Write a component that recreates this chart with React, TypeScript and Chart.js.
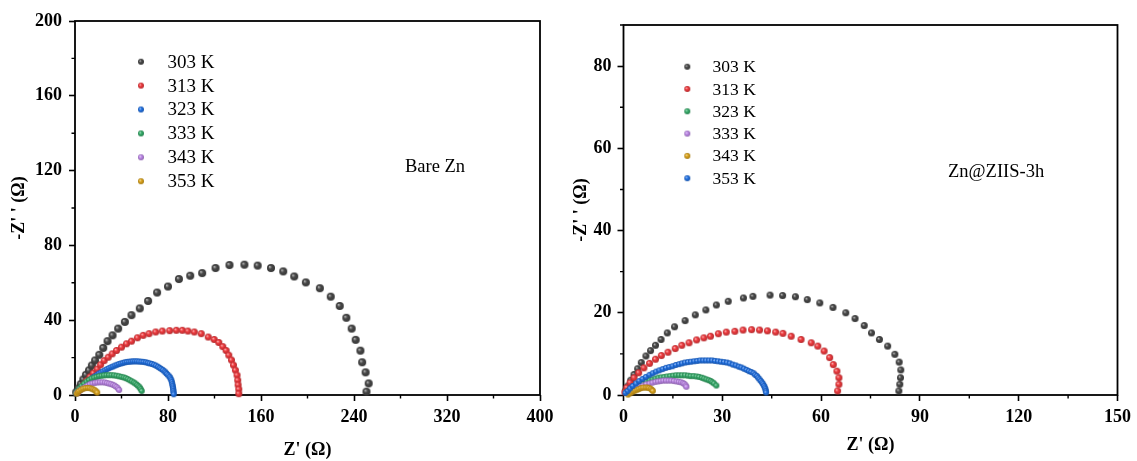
import React, { useEffect, useRef } from 'react';
import { Chart, registerables } from 'chart.js';

Chart.register(...registerables);

// ---------- DATA ----------
const seriesLabels = ['303 K', '313 K', '323 K', '333 K', '343 K', '353 K'];

// Bare Zn  (Z', -Z'')
const bare303 = [[1.0,1.5],[2.9,3.5],[4.9,5.8],[7.1,8.3],[9.4,10.8],[12,13.2],[14.5,15.8],[17.3,18.5],[20.9,21.5],[24.3,25.2],[28,28.8],[32.3,31.9],[37.1,35.5],[42.9,39.1],[48.6,42.7],[55.7,46.3],[62.9,50.3],[70.6,54.8],[80,58],[89.4,62],[99.1,63.8],[109.4,65.2],[120.9,67.9],[132.9,69.5],[145.7,69.7],[157.1,69.2],[168.6,67.9],[179.1,66.1],[188.6,63.4],[198.6,60.2],[210.6,57.1],[220,52.6],[227.7,47.6],[233.4,41.3],[238,35.5],[241.4,29.5],[245.5,23.7],[247,17.5],[250,12.1],[252.6,6.2],[250.7,1.8]];
const bare313 = [[2,1.3],[4.3,3.1],[7.1,5.4],[10,7.6],[12.9,9.7],[15.7,11.7],[19.1,13.9],[22,16.2],[25.1,18.4],[28.6,20.2],[32,22],[35.7,23.8],[40,25.6],[44.3,27.4],[48.6,28.8],[53.7,30.6],[58.6,31.9],[63.7,32.8],[69.4,33.7],[75.1,34.2],[81.4,34.4],[87.1,34.6],[92.3,34.6],[97.1,34.2],[102.6,33.7],[108.6,32.8],[114.6,31],[119.7,29.7],[123.7,28.1],[127.1,25.9],[130,23.8],[132.3,21.3],[134.6,18.7],[136.3,16],[138,13.3],[139.4,10.6],[140,7.9],[140.3,5.4],[140.9,3.1],[140.9,0.7]];
const bare323 = [[1.2,0.9],[2.6,1.8],[4,2.7],[5.4,3.6],[7.1,4.7],[8.9,5.8],[10.6,6.7],[12.3,7.6],[14,8.5],[15.7,9.4],[17.4,10.1],[19.1,10.8],[20.8,11.5],[22.6,12.1],[24.3,12.7],[26,13.3],[27.7,13.9],[29.4,14.4],[31.2,14.9],[32.9,15.3],[34.6,15.8],[36.3,16.2],[38,16.6],[39.7,16.9],[41.4,17.2],[43.1,17.5],[44.8,17.7],[46.6,17.8],[48.3,17.9],[50,18],[51.7,18],[53.4,18],[55.2,17.9],[57.1,17.8],[59,17.7],[60.9,17.5],[62.6,17.2],[64.3,16.9],[66.2,16.6],[68,16.2],[69.7,15.7],[71.4,15.1],[72.9,14.5],[74.3,13.9],[75.7,13.3],[77.1,12.6],[78.1,11.9],[79.1,11.2],[80.3,10.5],[81.4,9.7],[82.2,8.8],[82.9,7.9],[83.3,6.9],[83.7,5.8],[84,4.9],[84.3,4],[84.5,3.1],[84.6,2.2],[84.8,1.3],[84.9,0.4]];
const bare333 = [[1,1.2],[2,2.2],[3.8,3.6],[5.7,4.9],[7.8,6.1],[10,7.2],[12.1,8.1],[14.3,8.8],[16.5,9.3],[18.6,9.7],[20.8,10.1],[22.9,10.3],[25,10.5],[27.1,10.6],[29.3,10.6],[31.4,10.6],[33.6,10.5],[35.7,10.3],[37.9,10],[40,9.7],[41.9,9.4],[43.7,9],[45.4,8.5],[47.1,7.9],[48.9,7.3],[50.6,6.7],[52,6.1],[53.4,5.4],[54.6,4.7],[55.7,4],[56.6,3.1],[57.4,2.2]];
const bare343 = [[1.4,1.1],[2.8,1.8],[4.3,2.5],[6.4,3.4],[8.6,4.3],[10.7,5.1],[12.9,5.8],[15,6.2],[17.1,6.5],[19.3,6.7],[21.4,6.8],[23.6,6.8],[25.7,6.7],[27.6,6.4],[29.4,6.1],[31.2,5.8],[32.9,5.4],[34.4,4.9],[35.7,4.3],[37,3.5],[38,2.7]];
const bare353 = [[1.4,0.7],[2.5,1.5],[3.7,2.2],[5.4,2.9],[7.1,3.4],[9,3.7],[10.9,3.8],[12.6,3.7],[14.3,3.4],[15.8,3],[17.1,2.5],[18.3,1.9],[19.1,1.3]];

// Zn@ZIIS-3h  (Z', -Z'')
const zn303 = [[0.6,1],[1.3,2.2],[2.2,3.6],[3.2,5],[4.3,6.4],[5.4,7.9],[6.8,9.5],[8.2,10.8],[9.7,12.1],[11.4,13.5],[13.3,15.1],[15.5,16.6],[18.7,18.1],[21.8,19.5],[25,20.7],[28.2,21.9],[31.8,22.8],[36.4,23.6],[39.3,24],[44.5,24.3],[48.3,24.2],[52.2,23.9],[55.8,23.2],[59.6,22.4],[63.6,21.3],[67.5,20],[70.3,18.6],[73.1,16.9],[75.3,15.1],[77.7,13.5],[80.2,11.9],[82.4,9.9],[83.7,8],[84.2,6.1],[84.1,4.2],[83.9,2.6],[83.6,1]];
const zn313 = [[0.4,0.7],[1,1.8],[2,3],[3.2,4.2],[4.6,5.4],[6.2,6.6],[7.9,7.7],[9.7,8.7],[11.5,9.6],[13.5,10.4],[15.7,11.3],[17.7,12.1],[19.9,12.7],[22.2,13.4],[24.4,13.9],[26.4,14.3],[28.8,14.9],[31.2,15.3],[33.8,15.5],[36.3,15.8],[38.9,15.9],[41.3,15.8],[43.7,15.6],[46.2,15.3],[48.4,15],[50.9,14.3],[53.9,13.5],[57,12.7],[59,11.9],[60.9,10.7],[62.6,9.1],[63.7,7.4],[64.8,5.8],[65.4,4.2],[65.4,2.6],[65,1]];
const zn323 = [[0.9,0.7],[1.8,1.2],[2.8,1.7],[3.8,2.2],[4.8,2.6],[5.8,3],[6.9,3.3],[7.9,3.6],[8.8,3.8],[9.7,4],[10.6,4.2],[11.5,4.3],[12.4,4.4],[13.3,4.5],[14.2,4.6],[15.1,4.7],[16,4.8],[16.9,4.8],[17.8,4.8],[18.7,4.8],[19.6,4.7],[20.4,4.6],[21.3,4.6],[22.2,4.5],[23,4.4],[23.8,4.2],[24.5,4],[25.2,3.8],[25.9,3.6],[26.5,3.4],[27,3.1],[27.5,2.8],[28.2,2.3]];
const zn333 = [[1,0.6],[2,1],[2.9,1.4],[3.8,1.7],[4.8,2],[5.8,2.3],[6.9,2.6],[7.9,2.8],[8.8,3],[9.7,3.2],[10.5,3.3],[11.3,3.4],[12.1,3.5],[12.9,3.5],[13.7,3.5],[14.5,3.5],[15.3,3.4],[16.1,3.3],[16.8,3.2],[17.5,3.1],[18.1,2.9],[18.5,2.7],[18.9,2.3],[19.1,2]];
const zn343 = [[1.4,0.1],[1.9,0.4],[2.4,0.6],[3,0.9],[3.6,1.1],[4.2,1.3],[4.8,1.5],[5.4,1.7],[6,1.8],[6.7,1.8],[7.3,1.8],[7.8,1.7],[8.3,1.5],[8.7,1.2],[8.9,1]];
const zn353 = [[0.6,0.5],[1.3,1],[2,1.6],[2.8,2.2],[3.8,2.8],[4.8,3.4],[5.8,3.9],[6.8,4.4],[7.9,4.9],[8.9,5.3],[9.9,5.7],[10.9,6],[11.9,6.3],[12.9,6.6],[13.9,6.8],[14.9,7],[15.9,7.3],[16.9,7.5],[17.8,7.7],[18.7,7.9],[19.6,8],[20.5,8.1],[21.5,8.2],[22.4,8.3],[23.3,8.4],[24.2,8.4],[25.1,8.4],[26,8.4],[26.9,8.4],[27.8,8.3],[28.7,8.2],[29.6,8.1],[30.5,8],[31.4,7.9],[32.3,7.7],[33.2,7.4],[34.1,7.2],[35,6.9],[35.8,6.7],[36.6,6.4],[37.4,6.1],[38.1,5.8],[38.8,5.6],[39.5,5.3],[40,4.9],[40.5,4.6],[40.9,4.2],[41.3,3.8],[41.7,3.4],[42.1,3],[42.4,2.6],[42.7,2.2],[42.9,1.8],[43.1,1.4],[43.2,1],[43.3,0.6]];

// Axis ticks
const bareXTicks = [0, 80, 160, 240, 320, 400];
const bareYTicks = [0, 40, 80, 120, 160, 200];
const znXTicks = [0, 30, 60, 90, 120, 150];
const znYTicks = [0, 20, 40, 60, 80];

// ---------- STYLE ----------
type RGB = [number, number, number];
const GRAY: RGB = [72, 72, 72];
const RED: RGB = [238, 58, 62];
const BLUE: RGB = [32, 112, 226];
const GREEN: RGB = [52, 170, 104];
const PURPLE: RGB = [188, 134, 230];
const GOLD: RGB = [218, 162, 26];

const SERIF = '"Liberation Serif", "Times New Roman", serif';

function mix(c: RGB, t: number, target: number): string {
  const v = c.map((x) => Math.round(x + (target - x) * t));
  return `rgb(${v[0]},${v[1]},${v[2]})`;
}

function makeBall(c: RGB, d: number): HTMLCanvasElement {
  const s = Math.ceil(d) + 2;
  const cv = document.createElement('canvas');
  cv.width = s;
  cv.height = s;
  const ctx = cv.getContext('2d')!;
  const r = d / 2;
  const cx = s / 2;
  const cy = s / 2;
  const g = ctx.createRadialGradient(cx - r * 0.35, cy - r * 0.35, 0, cx, cy, r);
  g.addColorStop(0, mix(c, 0.7, 255));
  g.addColorStop(0.45, mix(c, 0, 0));
  g.addColorStop(1, mix(c, 0.25, 0));
  ctx.fillStyle = g;
  ctx.beginPath();
  ctx.arc(cx, cy, r, 0, Math.PI * 2);
  ctx.fill();
  return cv;
}

type Panel = {
  series: number[][][];
  colors: RGB[];
  sizes: number[];
  xTicks: number[];
  yTicks: number[];
  yMax: number;
  padding: { top: number; right: number };
  yWidth: number;
  yTitlePad: number;
  xTitlePad: number;
  yTickPad: number;
  legend: { mx: number; tx: number; y0: number; dy: number; font: number; ball: number };
  note: { text: string; x: number; y: number; font: number };
};

const framePlugin = {
  id: 'frame',
  beforeDatasetsDraw(chart: any) {
    const { ctx, chartArea: a } = chart;
    ctx.save();
    ctx.strokeStyle = '#000';
    ctx.lineWidth = 1.8;
    ctx.strokeRect(a.left, a.top, a.right - a.left, a.bottom - a.top);
    ctx.restore();
  },
};

const minorTickPlugin = {
  id: 'minorTicks',
  afterDraw(chart: any) {
    const { ctx, chartArea: a, scales } = chart;
    const xt: number[] = chart.options.plugins.minorTicks.x;
    const yt: number[] = chart.options.plugins.minorTicks.y;
    ctx.save();
    ctx.strokeStyle = '#000';
    ctx.lineWidth = 1.4;
    ctx.beginPath();
    for (let i = 0; i < xt.length - 1; i++) {
      const px = scales.x.getPixelForValue((xt[i] + xt[i + 1]) / 2);
      ctx.moveTo(px, a.bottom);
      ctx.lineTo(px, a.bottom + 3.5);
    }
    const step = yt[1] - yt[0];
    for (let i = 0; i < yt.length; i++) {
      const v = yt[i] + step / 2;
      if (v > scales.y.max + 1e-9) continue;
      const py = scales.y.getPixelForValue(v);
      ctx.moveTo(a.left - 3.5, py);
      ctx.lineTo(a.left, py);
    }
    ctx.stroke();
    ctx.restore();
  },
};

const legendPlugin = {
  id: 'innerLegend',
  afterDraw(chart: any) {
    const o = chart.options.plugins.innerLegend;
    const { ctx } = chart;
    ctx.save();
    ctx.fillStyle = '#000';
    ctx.textBaseline = 'middle';
    ctx.textAlign = 'left';
    ctx.font = `${o.font}px ${SERIF}`;
    chart.data.datasets.forEach((ds: any, i: number) => {
      const y = o.y0 + i * o.dy;
      const img: HTMLCanvasElement = o.balls[i];
      ctx.drawImage(img, o.mx - img.width / 2, y - img.height / 2);
      ctx.fillText(ds.label, o.tx, y + 1);
    });
    const n = o.note;
    ctx.font = `${n.font}px ${SERIF}`;
    ctx.fillText(n.text, n.x, n.y + 1);
    ctx.restore();
  },
};

function buildConfig(p: Panel): any {
  const datasets = p.series.map((s, i) => ({
    label: seriesLabels[i],
    data: s.map(([x, y]) => ({ x, y })),
    pointStyle: makeBall(p.colors[i], p.sizes[i]),
    pointRadius: 3,
    showLine: false,
    clip: false,
    order: p.series.length - i,
  }));
  const tickFont = { family: SERIF, size: 18, weight: 'bold' as const, lineHeight: 1.2 };
  const titleFont = { family: SERIF, size: 18, weight: 'bold' as const, lineHeight: 1.2 };
  const grid = {
    display: true,
    drawOnChartArea: false,
    drawTicks: true,
    tickLength: 6,
    tickWidth: 1.6,
    tickColor: '#000',
    color: '#000',
  };
  return {
    type: 'scatter',
    data: { datasets },
    options: {
      responsive: false,
      animation: false,
      events: [],
      layout: { padding: { left: 0, top: p.padding.top, right: p.padding.right, bottom: 0 } },
      plugins: {
        legend: { display: false },
        tooltip: { enabled: false },
        minorTicks: { x: p.xTicks, y: p.yTicks },
        innerLegend: {
          ...p.legend,
          note: p.note,
          balls: p.colors.map((c) => makeBall(c, p.legend.ball)),
        },
      },
      scales: {
        x: {
          type: 'linear',
          min: p.xTicks[0],
          max: p.xTicks[p.xTicks.length - 1],
          afterFit: (s: any) => {
            s.height = 66;
          },
          afterBuildTicks: (s: any) => {
            s.ticks = p.xTicks.map((v) => ({ value: v }));
          },
          border: { display: false },
          grid,
          ticks: {
            color: '#000',
            font: tickFont,
            padding: 6,
            maxRotation: 0,
            autoSkip: false,
          },
          title: {
            display: true,
            text: "Z' (Ω)",
            color: '#000',
            font: titleFont,
            padding: { top: 0, bottom: p.xTitlePad },
          },
        },
        y: {
          type: 'linear',
          min: 0,
          max: p.yMax,
          afterFit: (s: any) => {
            s.width = p.yWidth;
          },
          afterBuildTicks: (s: any) => {
            s.ticks = p.yTicks.map((v) => ({ value: v }));
          },
          border: { display: false },
          grid,
          ticks: {
            color: '#000',
            font: tickFont,
            padding: p.yTickPad,
            autoSkip: false,
          },
          title: {
            display: true,
            text: "-Z' ' (Ω)",
            color: '#000',
            font: titleFont,
            padding: { top: p.yTitlePad, bottom: 0 },
          },
        },
      },
    },
    plugins: [framePlugin, minorTickPlugin, legendPlugin],
  };
}

const barePanel: Panel = {
  series: [bare303, bare313, bare323, bare333, bare343, bare353],
  colors: [GRAY, RED, BLUE, GREEN, PURPLE, GOLD],
  sizes: [8, 7, 6, 6, 6, 6],
  xTicks: bareXTicks,
  yTicks: bareYTicks,
  yMax: 200,
  padding: { top: 21, right: 20 },
  yWidth: 75,
  yTitlePad: 9,
  xTitlePad: 0,
  yTickPad: 7,
  legend: { mx: 141, tx: 167.5, y0: 61.7, dy: 23.9, font: 19, ball: 6 },
  note: { text: 'Bare Zn', x: 405, y: 166, font: 18.5 },
};

const znPanel: Panel = {
  series: [zn303, zn313, zn323, zn333, zn343, zn353],
  colors: [GRAY, RED, GREEN, PURPLE, GOLD, BLUE],
  sizes: [7, 7, 6, 6, 6, 6],
  xTicks: znXTicks,
  yTicks: znYTicks,
  yMax: 90,
  padding: { top: 25, right: 16.5 },
  yWidth: 63.5,
  yTitlePad: 11,
  xTitlePad: 5,
  yTickPad: 6,
  legend: { mx: 127.3, tx: 152.5, y0: 66.7, dy: 22.3, font: 17.5, ball: 6 },
  note: { text: 'Zn@ZIIS-3h', x: 388, y: 171, font: 18.5 },
};

function PanelChart({ panel, left, width }: { panel: Panel; left: number; width: number }) {
  const ref = useRef<HTMLCanvasElement | null>(null);
  useEffect(() => {
    if (!ref.current) return;
    const chart = new Chart(ref.current, buildConfig(panel));
    return () => chart.destroy();
  }, [panel]);
  return (
    <canvas
      ref={ref}
      width={width}
      height={461}
      style={{ position: 'absolute', left, top: 0, width, height: 461 }}
    />
  );
}

export default function App() {
  return (
    <div
      style={{
        position: 'absolute',
        left: 0,
        top: 0,
        width: 1137,
        height: 461,
        background: '#fff',
        overflow: 'hidden',
      }}
    >
      <PanelChart panel={barePanel} left={0} width={560} />
      <PanelChart panel={znPanel} left={560} width={577} />
    </div>
  );
}
